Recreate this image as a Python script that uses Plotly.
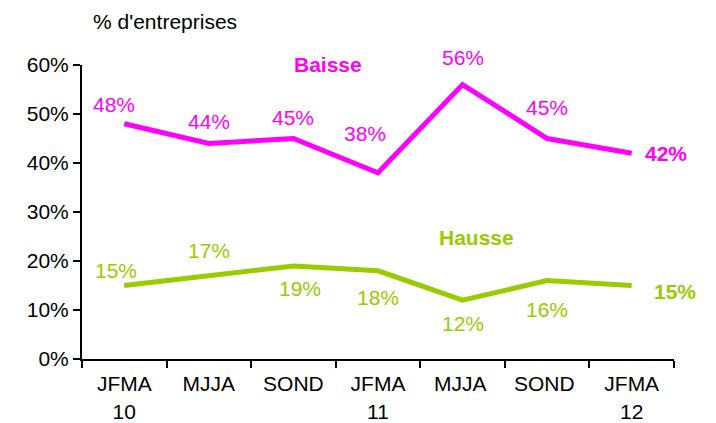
import plotly.graph_objects as go

categories = ["JFMA<br>10", "MJJA", "SOND", "JFMA<br>11", "MJJA ", "SOND ", "JFMA<br>12"]
baisse = [48, 44, 45, 38, 56, 45, 42]
hausse = [15, 17, 19, 18, 12, 16, 15]
y_ticks = [0, 10, 20, 30, 40, 50, 60]

MAGENTA = "#FF00FF"
GREEN = "#99CC00"
FONT = "Liberation Sans, Arial, sans-serif"
FS = 21

fig = go.Figure()
fig.add_trace(go.Scatter(x=categories, y=baisse, mode="lines",
                         line=dict(color=MAGENTA, width=5), name="Baisse"))
fig.add_trace(go.Scatter(x=categories, y=hausse, mode="lines",
                         line=dict(color=GREEN, width=5), name="Hausse"))

# label offsets (pixels) for each point
b_shift = [(-10, 19), (0, 22), (0, 21), (-13, 39), (0, 27), (0, 31), (11, 0)]
h_shift = [(-8, 15), (0, 25), (7, -23), (0, -27), (0, -23), (0, -29), (20, -6)]

ann = []
for i, (c, v) in enumerate(zip(categories, baisse)):
    last = i == len(baisse) - 1
    ann.append(dict(x=c, y=v, xref="x", yref="y", showarrow=False,
                    text=(f"<b>{v}%</b>" if last else f"{v}%"),
                    font=dict(color=MAGENTA, size=FS, family=FONT),
                    xanchor="left" if last else "center", yanchor="middle",
                    xshift=b_shift[i][0], yshift=b_shift[i][1]))
for i, (c, v) in enumerate(zip(categories, hausse)):
    last = i == len(hausse) - 1
    ann.append(dict(x=c, y=v, xref="x", yref="y", showarrow=False,
                    text=(f"<b>{v}%</b>" if last else f"{v}%"),
                    font=dict(color=GREEN, size=FS, family=FONT),
                    xanchor="left" if last else "center", yanchor="middle",
                    xshift=h_shift[i][0], yshift=h_shift[i][1]))

# free text, given in page pixel positions
ann.append(dict(x=328, y=64, xref="paper", yref="paper", showarrow=False,
                xanchor="center", yanchor="middle",
                text="<b>Baisse</b>", font=dict(color=MAGENTA, size=FS, family=FONT)))
ann.append(dict(x=476, y=237, xref="paper", yref="paper", showarrow=False,
                xanchor="center", yanchor="middle",
                text="<b>Hausse</b>", font=dict(color=GREEN, size=FS, family=FONT)))
ann.append(dict(x=165, y=22, xref="paper", yref="paper", showarrow=False,
                xanchor="center", yanchor="middle",
                text="% d'entreprises", font=dict(color="black", size=FS, family=FONT)))

# page has an 8px body margin
OFF = 8
W, H = 708, 415
L, T = 82 - OFF, 65 - OFF
pw, ph = 592, 294
R, B = W - L - pw, H - T - ph
for a in ann[-3:]:
    a["x"] = (a["x"] - OFF - L) / pw
    a["y"] = (T + ph - (a["y"] - OFF)) / ph

fig.update_layout(
    width=W, height=H,
    margin=dict(l=L, r=R, t=T, b=B, autoexpand=False),
    plot_bgcolor="white", paper_bgcolor="white",
    showlegend=False,
    font=dict(family=FONT, size=FS, color="black"),
    annotations=ann,
    xaxis=dict(type="category", range=[-0.5, 6.5], showline=True, linecolor="black",
               linewidth=2, ticks="outside", tickson="boundaries", ticklen=7,
               tickcolor="black", tickwidth=2, showgrid=False, ticklabelstandoff=5,
               automargin=False, tickfont=dict(size=FS, family=FONT)),
    yaxis=dict(range=[0, 60], tickvals=y_ticks, ticktext=[f"{t}%" for t in y_ticks],
               showline=True, linecolor="black", linewidth=2, ticks="outside",
               ticklen=7, tickcolor="black", tickwidth=2, showgrid=False,
               automargin=False, zeroline=False, tickfont=dict(size=FS, family=FONT)),
)

fig.write_html("out.html")
